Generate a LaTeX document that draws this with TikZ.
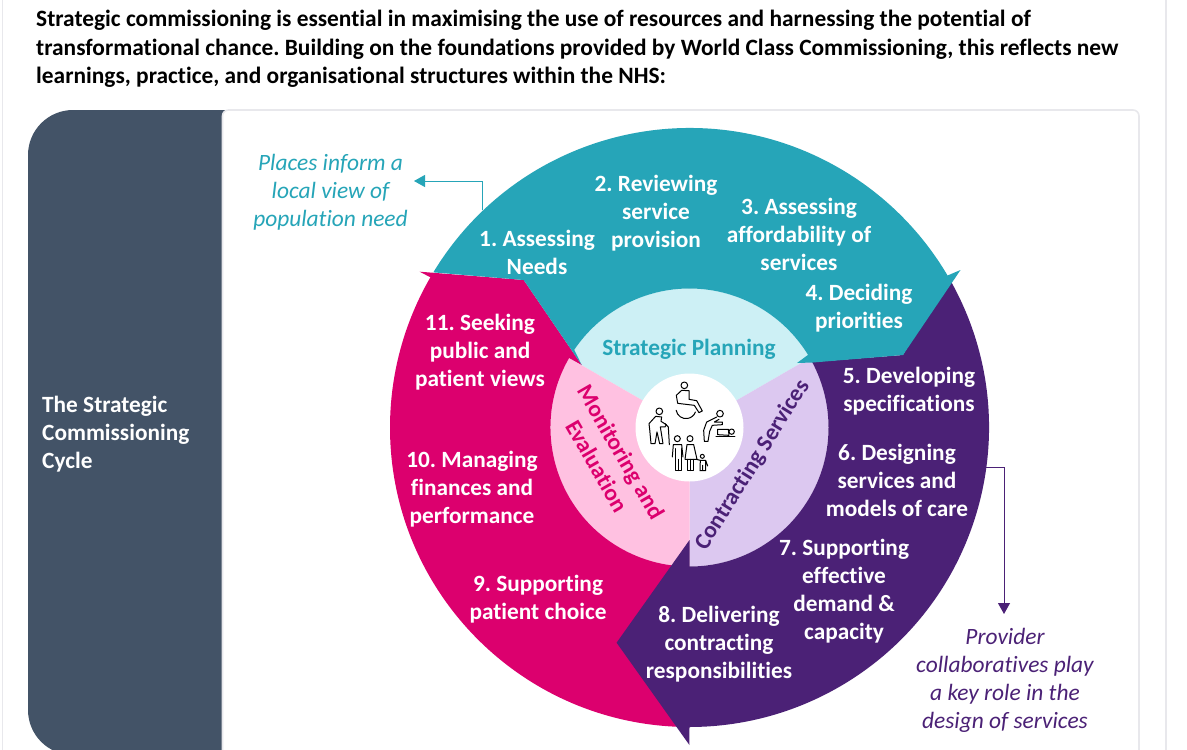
\documentclass[tikz,border=0pt]{standalone}
\usepackage{fontspec}
\setmainfont[Ligatures=NoCommon]{Carlito}
\usepackage{tikz}
\usetikzlibrary{arrows.meta,positioning,calc}
\definecolor{cteal}{HTML}{26A5B8}
\definecolor{cpink}{HTML}{DC006E}
\definecolor{cpurple}{HTML}{4B2176}
\definecolor{cslate}{HTML}{435367}
\definecolor{lteal}{HTML}{CDF0F5}
\definecolor{lpink}{HTML}{FFC1E1}
\definecolor{lpurple}{HTML}{DCC8F0}
\definecolor{cframe}{HTML}{E8E8EC}
\frenchspacing
\begin{document}
\begin{tikzpicture}[
  x=1pt,y=-1pt,
  seg/.style={align=center,inner sep=0pt,text=white,font=\fontsize{23.3}{28}\selectfont\frenchspacing\bfseries},
  inner/.style={align=center,inner sep=0pt,font=\fontsize{23.3}{28}\selectfont\frenchspacing\bfseries},
  note/.style={align=center,inner sep=0pt,font=\fontsize{23.4}{28}\selectfont\frenchspacing\itshape},
  arr/.style={-{Triangle[length=11pt,width=12pt]},line width=1pt},
  frame/.style={draw=cframe,line width=1.6pt},
  person/.style={draw=black,line width=1pt,line cap=round,line join=round},
]
\useasboundingbox (0,0) rectangle (1187,750);
\coordinate (c) at (689.5,427.5);
\draw[frame] (2.5,-5) -- (2.5,755);
\draw[frame] (1166,-5) -- (1166,755);
\fill[cslate,rounded corners=45pt] (28,110) rectangle (180,755);
\fill[cslate] (100,110) rectangle (226,755);
\draw[frame,fill=white,rounded corners=6pt] (222.5,110) rectangle (1139,770);
% inner ring
\fill[lteal] (c) -- ++(210:139) arc[start angle=210,end angle=330,radius=139] -- cycle;
\fill[lpurple] (c) -- ++(330:139) arc[start angle=330,end angle=450,radius=139] -- cycle;
\fill[lpink] (c) -- ++(90:139) arc[start angle=90,end angle=210,radius=139] -- cycle;
% outer arrows
\fill[cpink] ($(c)+(90:299.5)$) arc[start angle=90,end angle=210.1,radius=299.5]
  -- (419.7,271.7) -- (523.7,280) -- (581.7,365) -- ($(c)+(210:139)$)
  arc[start angle=210,end angle=90,radius=139] -- cycle;
\fill[cpurple] ($(c)+(330:299.5)$) arc[start angle=330,end angle=450,radius=299.5]
  -- (689.4,745) -- (616.6,642.7) -- (689.5,540) -- ($(c)+(90:139)$)
  arc[start angle=90,end angle=-30,radius=139] -- (813,362) -- (903,355) -- cycle;
\fill[cteal] ($(c)+(211.2:299.5)$) arc[start angle=211.2,end angle=329.5,radius=299.5]
  -- (960.5,270) -- (903,355) -- (813,362.5) -- (797,363) -- ($(c)+(328.5:139)$)
  arc[start angle=328.5,end angle=214,radius=139] -- (581.7,365) -- (523.7,280) -- cycle;
\fill[white] (c) circle[radius=54];
% people
\begin{scope}[shift={(635,372)},x=0.3333pt,y=-0.3333pt]
\draw[person] (148,40) circle[radius=10];
\draw[person] (140,55) -- (124,70) -- (128,94) -- (178,100) -- (192,122) -- (202,117) -- (185,86) -- (162,82) -- (162,56) -- cycle;
\draw[person] (123.5,115) arc[start angle=170,end angle=20,radius=30];
\draw[person] (73,118) circle[radius=10];
\draw[person] (62,133) -- (42,155) -- (44,172) -- (48,215) -- (60,215) -- (66,180) -- (74,215) -- (84,215) -- (76,165) -- (90,165) -- (94,158) -- (78,148) -- (80,135) -- cycle;
\draw[person] (90,155) -- (100,165) -- (103,218);
\draw[person] (255,125) circle[radius=10];
\draw[person] (245,135) -- (215,150) -- (206,175) -- (208,208) -- (219,208) -- (224,178) -- (232,160) -- (262,158) -- (262,150) -- (238,150) -- (252,142);
\draw[person] (248,172) -- (280,172) -- (282,190) -- (248,188) -- cycle;
\draw[person] (290,179) circle[radius=8];
\draw[person] (243,194) -- (300,194);
\draw[person] (127,200) circle[radius=9];
\draw[person] (112,255) -- (115,218) -- (140,218) -- (144,255);
\draw[person] (120,230) -- (120,296) -- (138,296) -- (138,230) (129,262) -- (129,296);
\draw[person] (165,200) circle[radius=9];
\draw[person] (150,262) -- (156,218) -- (176,218) -- (186,262) -- cycle;
\draw[person] (158,262) -- (158,296) -- (176,296) -- (176,262) (167,262) -- (167,296);
\draw[person] (202,253) circle[radius=6];
\draw[person] (184,262) -- (196,265) -- (212,265) -- (218,282) (196,265) -- (195,296) -- (212,296) -- (212,265) (203,280) -- (203,296);
\end{scope}
% texts
\node[anchor=west,align=left,inner sep=0pt,font=\fontsize{23.4}{28.5}\selectfont\frenchspacing\bfseries] (intro) at (36,49) {Strategic commissioning is essential in maximising the use of resources and harnessing the potential of\\transformational chance. Building on the foundations provided by World Class Commissioning, this reflects new\\learnings, practice, and organisational structures within the NHS:};
\node[anchor=west,align=left,inner sep=0pt,text=white,font=\fontsize{23.3}{28}\selectfont\frenchspacing\bfseries] (cycle) at (42,434.5) {The Strategic\\Commissioning\\Cycle};
\node[seg] (s1) at (537,252) {1. Assessing\\Needs};
\node[seg] (s2) at (656,213.5) {2. Reviewing\\service\\provision};
\node[seg] (s3) at (799,234) {3. Assessing\\affordability of\\services};
\node[seg] (s4) at (859,308.5) {4. Deciding\\priorities};
\node[seg] (s5) at (909,391.5) {5. Developing\\specifications};
\node[seg] (s6) at (897,480) {6. Designing\\services and\\models of care};
\node[seg] (s7) at (844,591.5) {7. Supporting\\effective\\demand \&\\capacity};
\node[seg] (s8) at (719,644) {8. Delivering\\contracting\\responsibilities};
\node[seg] (s9) at (538,599) {9. Supporting\\patient choice};
\node[seg] (s10) at (472,489) {10. Managing\\finances and\\performance};
\node[seg] (s11) at (480,352) {11. Seeking\\public and\\patient views};
\node[inner,text=cteal] (plan) at (689,349.5) {Strategic Planning};
\node[inner,text=cpink,rotate=-60] (monitor) at (609,459) {Monitoring and\\Evaluation};
\node[inner,text=cpurple,rotate=58] (contract) at (753,465) {Contracting Services};
\node[note,text=cteal] (places) at (330.5,192) {Places inform a\\local view of\\population need};
\node[note,text=cpurple] (provider) at (1005,680) {Provider\\collaboratives play\\a key role in the\\design of services};
% arrows
\coordinate (pfrom) at (482,210);
\coordinate (pto) at (414,181);
\coordinate (cfrom) at (985,467.5);
\coordinate (cto) at (1004,614);
\draw[arr,draw=cteal] (pfrom) |- (pto);
\draw[arr,draw=cpurple] (cfrom) -| (cto);
\end{tikzpicture}
\end{document}
